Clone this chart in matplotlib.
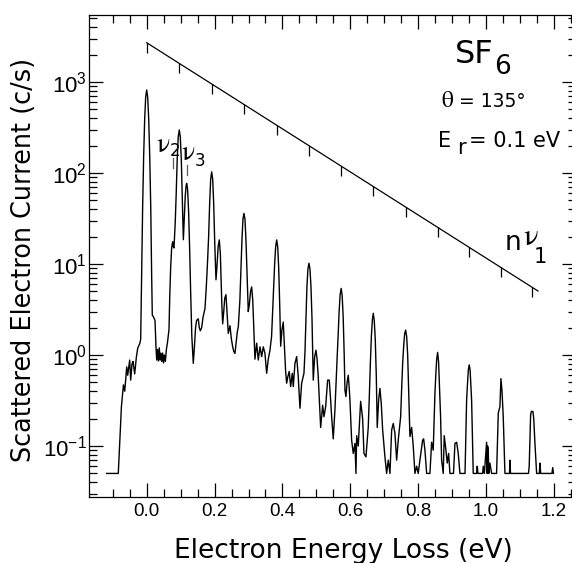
import numpy as np
import matplotlib
matplotlib.use('Agg')
import matplotlib.pyplot as plt
from matplotlib.ticker import LogLocator, NullFormatter

# spektrum: (energitab eV, strøm c/s)
spectrum_pts = [
    (-0.118, 0.05), (-0.0837, 0.05), (-0.0745, 0.27), (-0.0686, 0.47),
    (-0.0647, 0.40), (-0.0589, 0.74), (-0.0560, 0.60), (-0.0501, 0.88),
    (-0.0472, 0.53), (-0.0432, 0.80), (-0.0403, 0.85), (-0.0354, 0.62),
    (-0.0304, 0.95), (-0.0264, 1.19), (-0.0200, 1.35),
    # elastisk top
    (-0.0177, 1.5), (-0.015, 7.5), (-0.012, 41), (-0.009, 150),
    (-0.006, 385), (-0.003, 680), (0.0, 817), (0.003, 680), (0.006, 385),
    (0.009, 150), (0.012, 41), (0.0145, 8.0), (0.0165, 2.75), (0.0205, 2.6),
    (0.0245, 2.4), (0.0275, 1.2), (0.0295, 0.88),
    (0.0320, 1.15), (0.0345, 0.86), (0.0370, 1.20), (0.0395, 0.88),
    (0.0420, 1.05), (0.0445, 0.85), (0.0470, 1.05), (0.0495, 0.82),
    (0.0520, 1.00), (0.0550, 0.85), (0.0580, 1.15), (0.0610, 1.35),
    (0.0657, 1.9),
    # nu2 skulder + n=1
    (0.0680, 4.5), (0.0707, 9.3), (0.0735, 15), (0.0766, 17.6),
    (0.0785, 15.5), (0.0804, 15.0), (0.0840, 28), (0.0870, 60),
    (0.0900, 145), (0.0930, 250), (0.0960, 297), (0.0990, 250),
    (0.1020, 140), (0.1050, 50), (0.1080, 18.5),
    # nu3
    (0.1105, 30), (0.1135, 55), (0.1160, 72), (0.1178, 77), (0.1205, 66),
    (0.1235, 38), (0.1265, 15), (0.1295, 5), (0.1330, 1.6), (0.1373, 0.81),
    (0.1410, 1.3), (0.1440, 2.0), (0.1470, 2.4), (0.1520, 2.5),
    (0.1550, 2.0), (0.1580, 1.85), (0.1620, 2.0), (0.1660, 2.6),
    (0.1718, 3.25),
    # n=2
    (0.1755, 5.5), (0.1790, 10), (0.1825, 20), (0.1855, 46), (0.1885, 85),
    (0.1915, 103), (0.1945, 85), (0.1975, 45), (0.2005, 17), (0.2042, 6.7),
    (0.2075, 10), (0.2105, 15.5), (0.2139, 18.4), (0.2170, 13),
    (0.2195, 6.5), (0.2215, 3.5), (0.2239, 2.2), (0.2270, 3.0),
    (0.2300, 4.2), (0.2336, 4.6), (0.2370, 2.8), (0.2404, 1.73),
    (0.2454, 2.1), (0.2495, 1.5), (0.2534, 1.23), (0.2565, 1.1),
    (0.2601, 1.04), (0.2640, 1.4), (0.2670, 1.8), (0.2700, 2.05),
    # n=3
    (0.2746, 4.0), (0.2776, 8.5), (0.2806, 18), (0.2836, 31), (0.2866, 36),
    (0.2896, 31), (0.2926, 18), (0.2956, 8), (0.2993, 3.0), (0.3025, 3.6),
    (0.3060, 5.0), (0.3093, 5.6), (0.3125, 4.0), (0.3155, 2.0),
    (0.3190, 0.9), (0.3240, 1.35), (0.3288, 0.88), (0.3338, 1.23),
    (0.3388, 0.96), (0.3435, 1.23), (0.3485, 1.04), (0.3535, 0.63),
    (0.3582, 0.90), (0.3632, 1.13),
    # n=4
    (0.3680, 1.6), (0.3710, 3.0), (0.3740, 5.5), (0.3770, 10),
    (0.3800, 15.5), (0.3830, 18.4), (0.3860, 15.5), (0.3890, 9),
    (0.3920, 3.5), (0.3948, 1.25), (0.3985, 1.9), (0.4024, 2.3),
    (0.4060, 1.2), (0.4095, 0.65), (0.4124, 0.49), (0.4160, 0.58),
    (0.4200, 0.66), (0.4242, 0.45), (0.4290, 0.63), (0.4319, 0.45),
    (0.4369, 0.81), (0.4419, 0.96), (0.4466, 0.58), (0.4516, 0.26),
    (0.4566, 0.49), (0.4634, 0.63),
    # n=5
    (0.4665, 1.1), (0.4693, 2.6), (0.4721, 5.6), (0.4751, 8.8),
    (0.4781, 10.2), (0.4811, 8.8), (0.4841, 5.6), (0.4871, 2.5),
    (0.4895, 0.9), (0.4908, 0.53), (0.4948, 0.95), (0.4988, 1.13),
    (0.5020, 0.9), (0.5055, 0.58), (0.5090, 0.3), (0.5126, 0.16),
    (0.5185, 0.28), (0.5223, 0.21), (0.5273, 0.27), (0.5332, 0.53),
    (0.5380, 0.53), (0.5420, 0.32), (0.5450, 0.21), (0.5497, 0.12),
    (0.5547, 0.25), (0.5585, 0.55),
    # n=6
    (0.5615, 1.0), (0.5640, 1.6), (0.5670, 3.0), (0.5700, 4.6),
    (0.5730, 5.4), (0.5760, 4.5), (0.5790, 2.6), (0.5820, 1.0),
    (0.5842, 0.41), (0.5871, 0.35), (0.5905, 0.50), (0.5939, 0.60),
    (0.5965, 0.45), (0.5989, 0.32), (0.6039, 0.116), (0.6086, 0.083),
    (0.6137, 0.107), (0.6166, 0.05), (0.6187, 0.13), (0.6234, 0.10),
    (0.6304, 0.31), (0.6363, 0.20), (0.6402, 0.083), (0.6461, 0.076),
    (0.6528, 0.16),
    # n=7
    (0.6560, 0.35), (0.6590, 0.80), (0.6620, 1.6), (0.6650, 2.45),
    (0.6676, 2.87), (0.6705, 2.4), (0.6735, 1.5), (0.6765, 0.6),
    (0.6793, 0.16), (0.6835, 0.32), (0.6873, 0.43), (0.6910, 0.30),
    (0.6953, 0.15), (0.7020, 0.076), (0.7070, 0.05), (0.7118, 0.07),
    (0.7168, 0.05), (0.7218, 0.15), (0.7265, 0.177), (0.7315, 0.138),
    (0.7365, 0.07), (0.7412, 0.116), (0.7483, 0.21),
    # n=8
    (0.7515, 0.45), (0.7545, 0.85), (0.7575, 1.3), (0.7600, 1.7),
    (0.7630, 1.88), (0.7660, 1.6), (0.7690, 1.0), (0.7720, 0.4),
    (0.7757, 0.127), (0.7807, 0.16), (0.7854, 0.10), (0.7904, 0.05),
    (0.7954, 0.06), (0.8001, 0.05), (0.8051, 0.07), (0.8131, 0.116),
    (0.8160, 0.12), (0.8199, 0.09), (0.8249, 0.05), (0.8346, 0.05),
    (0.8396, 0.11), (0.8443, 0.09),
    # n=9
    (0.8493, 0.38), (0.8520, 0.62), (0.8545, 0.9), (0.8573, 1.07),
    (0.8600, 0.85), (0.8640, 0.35), (0.8660, 0.21), (0.8690, 0.07),
    (0.8738, 0.05), (0.8767, 0.13), (0.8817, 0.09), (0.8856, 0.065),
    (0.8897, 0.083), (0.8935, 0.05), (0.9040, 0.05), (0.9083, 0.107),
    (0.9133, 0.11), (0.9180, 0.083), (0.9230, 0.05), (0.9380, 0.05),
    # n=10
    (0.9427, 0.32), (0.9455, 0.5), (0.9480, 0.7), (0.9504, 0.78),
    (0.9530, 0.68), (0.9555, 0.45), (0.9574, 0.32), (0.9622, 0.05),
    (0.9720, 0.05), (0.9740, 0.06), (0.9760, 0.05), (0.9900, 0.05),
    (0.9916, 0.06), (0.9950, 0.05), (1.0016, 0.11), (1.0030, 0.05),
    (1.0045, 0.10), (1.0064, 0.09), (1.0080, 0.05), (1.0113, 0.065),
    (1.0164, 0.05), (1.0310, 0.05),
    # n=11
    (1.0360, 0.23), (1.0408, 0.27), (1.0438, 0.55), (1.0470, 0.40),
    (1.0506, 0.21), (1.0556, 0.05), (1.0690, 0.05), (1.0705, 0.07),
    (1.0720, 0.05), (1.1250, 0.05), (1.1271, 0.06),
    # n=12
    (1.1295, 0.13), (1.1313, 0.22), (1.1335, 0.24), (1.1380, 0.24),
    (1.1405, 0.20), (1.1440, 0.107), (1.1490, 0.05), (1.1570, 0.05),
    (1.1587, 0.065), (1.1610, 0.05), (1.1940, 0.05), (1.1965, 0.058),
    (1.1985, 0.05),
]

# n*nu1 progressionen: linjens endepunkter og toppenes placering
nu1_line_x = [0.0, 1.153]
nu1_line_y = [2700, 5.05]
nu1_pos = [0.0, 0.096, 0.1915, 0.2866, 0.383, 0.4781, 0.573, 0.6676,
           0.763, 0.8573, 0.9504, 1.0438, 1.1342]

xticks_major = [0.0, 0.2, 0.4, 0.6, 0.8, 1.0, 1.2]
xtick_labels = ['0.0', '0.2', '0.4', '0.6', '0.8', '1.0', '1.2']
yticks_major = [0.1, 1, 10, 100, 1000]
ytick_labels = [r'$\mathregular{10^{-1}}$', r'$\mathregular{10^{0}}$',
                r'$\mathregular{10^{1}}$', r'$\mathregular{10^{2}}$',
                r'$\mathregular{10^{3}}$']

plt.rcParams['font.family'] = ['DejaVu Sans']
plt.rcParams['mathtext.fontset'] = 'stix'

W, H = 572, 563
fig = plt.figure(figsize=(W / 100, H / 100), dpi=100)
ax = fig.add_axes([89 / W, 1 - 497 / H, (576 - 89) / W, (497 - 15) / H])

energy = [p[0] for p in spectrum_pts]
current = [p[1] for p in spectrum_pts]
ax.plot(energy, current, color='black', lw=1.0)

# progressionslinje med små streger ved hver top
ax.plot(nu1_line_x, nu1_line_y, color='black', lw=0.9)
tick_y = 10 ** np.interp(nu1_pos, nu1_line_x, np.log10(nu1_line_y))
ax.plot(nu1_pos, tick_y, ls='none', marker=3, ms=7.5, mew=0.9, color='black')

# nu2 / nu3 markeringer
ax.plot([0.0784, 0.0784], [113, 146], color='0.35', lw=0.9)
ax.plot([0.1178, 0.1178], [95, 122], color='0.35', lw=0.9)

ax.set_yscale('log')
ax.set_xlim(-0.170, 1.265)
ax.set_ylim(10 ** -1.560, 10 ** 3.736)

ax.set_xticks(xticks_major, labels=xtick_labels, fontfamily='Liberation Sans',
              fontsize=13.5)
ax.set_xticks(np.arange(-0.1, 1.26, 0.05), minor=True)
ax.set_yticks(yticks_major, labels=ytick_labels,
              fontfamily='Liberation Sans', fontsize=16)
ax.yaxis.set_minor_locator(LogLocator(base=10, subs=range(2, 10), numticks=20))
ax.yaxis.set_minor_formatter(NullFormatter())

ax.tick_params(which='both', direction='in', top=True, right=True, width=0.9)
ax.tick_params(which='major', length=10)
ax.tick_params(which='minor', length=6)
ax.tick_params(axis='x', pad=4)
ax.tick_params(axis='y', pad=1.5)
for s in ax.spines.values():
    s.set_linewidth(0.9)
ax.spines['right'].set_visible(False)


def put(px, py, s, **kw):
    kw.setdefault('ha', 'left')
    kw.setdefault('va', 'baseline')
    fig.text(px / W, 1 - py / H, s, **kw)


fig.text(24 / W, 1 - 260 / H, 'Scattered Electron Current (c/s)',
         rotation=90, ha='center', va='center', fontsize=18.4)
put(343, 558, 'Electron Energy Loss (eV)', ha='center', fontsize=19)

put(455, 63.3, 'SF', fontsize=23)
put(494, 74, '6', fontsize=19)
put(441, 106.7, r'$\mathrm{\theta}$', fontsize=17)
put(459, 106.7, '= 135°', fontsize=13.5)
put(438, 147, 'E', fontsize=15)
put(457, 154, 'r', fontsize=15)
put(469, 147, '= 0.1 eV', fontsize=15)
put(505, 250, 'n', fontsize=19)
put(523, 245, r'$\mathrm{\nu}$', fontsize=22)
put(534, 263, '1', fontsize=15)

put(156, 152, r'$\mathrm{\nu}$', fontsize=20)
put(170, 156, '2', fontsize=12)
put(181, 160, r'$\mathrm{\nu}$', fontsize=20)
put(195, 166, '3', fontsize=12)

fig.savefig('out.png', dpi=100)
